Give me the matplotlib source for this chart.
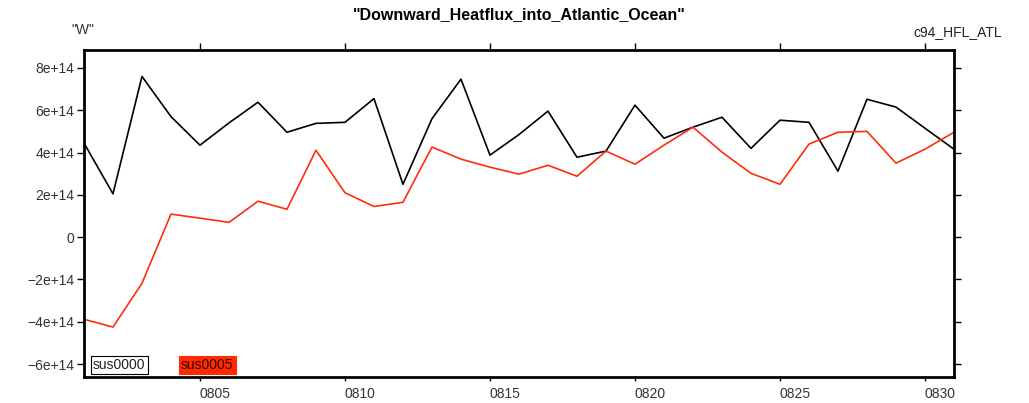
import matplotlib
matplotlib.use("Agg")
import matplotlib.pyplot as plt
from matplotlib.ticker import FixedLocator, FixedFormatter

plt.rcParams['font.family'] = ['Liberation Sans', 'DejaVu Sans']

# Days of August
days = list(range(1, 32))

# Downward heat flux into the Atlantic Ocean (W)
sus0000 = [4.45e14, 2.05e14, 7.6e14, 5.7e14, 4.35e14, 5.4e14, 6.38e14, 4.96e14,
           5.38e14, 5.43e14, 6.55e14, 2.5e14, 5.6e14, 7.47e14, 3.88e14, 4.85e14,
           5.96e14, 3.78e14, 4.07e14, 6.24e14, 4.68e14, 5.2e14, 5.67e14, 4.2e14,
           5.53e14, 5.43e14, 3.12e14, 6.52e14, 6.15e14, 5.15e14, 4.16e14]
sus0005 = [-3.88e14, -4.25e14, -2.18e14, 1.09e14, 0.9e14, 0.7e14, 1.7e14, 1.32e14,
           4.11e14, 2.1e14, 1.45e14, 1.65e14, 4.26e14, 3.69e14, 3.31e14, 2.98e14,
           3.4e14, 2.88e14, 4.07e14, 3.45e14, 4.35e14, 5.2e14, 4.02e14, 3.02e14,
           2.5e14, 4.4e14, 4.96e14, 5.0e14, 3.5e14, 4.16e14, 4.96e14]

series_names = ["sus0000", "sus0005"]
series_colors = ["black", "#ff2d0a"]

x_ticks = [5, 10, 15, 20, 25, 30]
x_tick_labels = ["0805", "0810", "0815", "0820", "0825", "0830"]
y_ticks = [8e14, 6e14, 4e14, 2e14, 0, -2e14, -4e14, -6e14]
y_tick_labels = ["8e+14", "6e+14", "4e+14", "2e+14", "0",
                 "\u22122e+14", "\u22124e+14", "\u22126e+14"]

fig = plt.figure(figsize=(10.29, 4.03), dpi=100)
ax = fig.add_axes([0.0816, 0.0645, 0.8455, 0.8115])

for vals, color in zip([sus0000, sus0005], series_colors):
    ax.plot(days, vals, color=color, lw=1.2)

ax.set_xlim(1, 31)
ax.set_ylim(-6.61e14, 8.85e14)

ax.xaxis.set_major_locator(FixedLocator(x_ticks))
ax.xaxis.set_major_formatter(FixedFormatter(x_tick_labels))
ax.yaxis.set_major_locator(FixedLocator(y_ticks))
ax.yaxis.set_major_formatter(FixedFormatter(y_tick_labels))

ax.tick_params(axis='both', which='major', direction='out', width=1,
               labelsize=10, colors='black', labelcolor='#333333')
ax.tick_params(axis='x', top=True, bottom=True, pad=4)
ax.tick_params(axis='y', left=True, right=True, length=5, pad=2)
for t in ax.xaxis.get_major_ticks():
    t.tick1line.set_markersize(3)
    t.tick2line.set_markersize(5)
# x tick labels start at their tick
for lbl in ax.get_xticklabels():
    lbl.set_horizontalalignment('left')

for sp in ax.spines.values():
    sp.set_linewidth(2)

fig.text(0.505, 0.963, "\"Downward_Heatflux_into_Atlantic_Ocean\"",
         ha='center', va='center', fontsize=11.5, fontweight='bold')
fig.text(0.069, 0.925, "\"W\"", ha='left', va='center', fontsize=10,
         color='#333333')
fig.text(0.974, 0.920, "c94_HFL_ATL", ha='right', va='center', fontsize=10,
         color='#222222')

# Series labels in the lower left corner
ax.text(0.0105, 0.037, series_names[0], transform=ax.transAxes,
        ha='left', va='center', fontsize=10, color='#222222',
        bbox=dict(boxstyle='square,pad=0.15', fc='white', ec='black', lw=0.8))
ax.text(0.1115, 0.037, series_names[1], transform=ax.transAxes,
        ha='left', va='center', fontsize=10, color='#330000',
        bbox=dict(boxstyle='square,pad=0.15', fc='#ff2a00', ec='#ff2a00', lw=0.8))

fig.savefig("out.png", dpi=100)
